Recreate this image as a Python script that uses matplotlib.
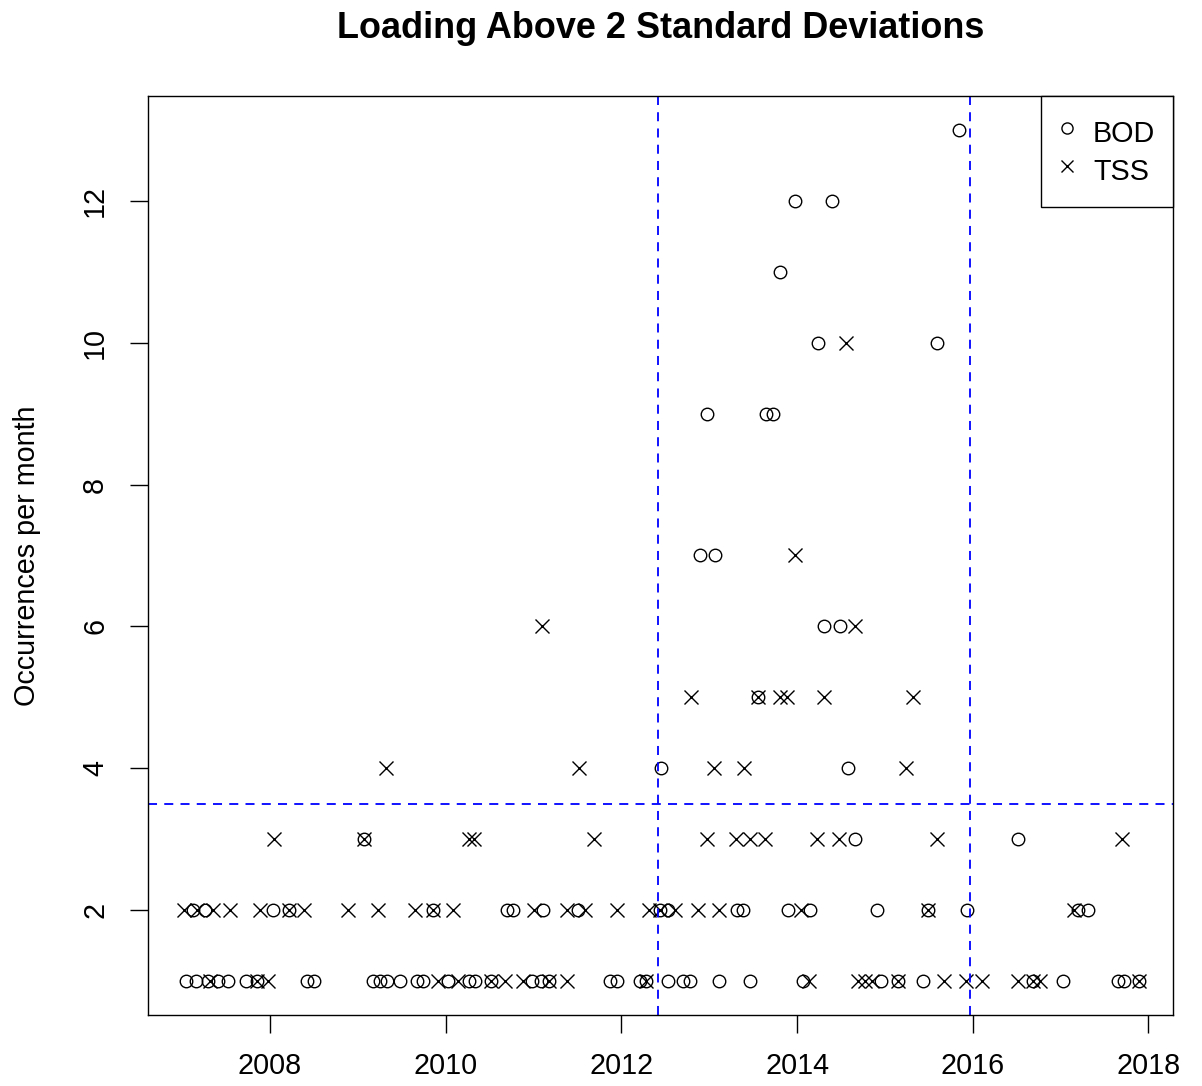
import matplotlib
matplotlib.use("Agg")
import matplotlib.pyplot as plt
from matplotlib.lines import Line2D

plt.rcParams['font.family'] = ['Liberation Sans', 'DejaVu Sans']

# Monthly counts above the 2-sigma loading threshold (decimal year, count)
bod_year = [
    # 1 per month
    2007.04, 2007.16, 2007.29, 2007.41, 2007.52, 2007.73, 2007.85, 2008.42, 2008.50,
    2009.17, 2009.25, 2009.33, 2009.48, 2009.67, 2009.74, 2010.03, 2010.26, 2010.33,
    2010.51, 2010.98, 2011.08, 2011.17, 2011.87, 2011.95, 2012.21, 2012.28, 2012.53,
    2012.70, 2012.78, 2013.11, 2013.46, 2014.07, 2014.95, 2015.15, 2015.43, 2016.69,
    2017.03, 2017.65, 2017.72, 2017.89,
    # 2 per month
    2007.12, 2007.26, 2008.03, 2008.21, 2009.85, 2010.70, 2010.77, 2011.11, 2011.51,
    2012.44, 2012.53, 2013.32, 2013.38, 2013.90, 2014.15, 2014.91, 2015.49, 2015.93,
    2017.20, 2017.31,
    # 3 and up
    2009.07, 2014.66, 2016.52,
    2012.45, 2014.58,
    2013.56,
    2014.31, 2014.49,
    2012.89, 2013.06,
    2012.97, 2013.65, 2013.73,
    2014.24, 2015.59,
    2013.81,
    2013.98, 2014.40,
    2015.84,
]
bod_count = (
    [1] * 40 + [2] * 20 + [3] * 3 + [4] * 2 + [5] * 1 + [6] * 2 + [7] * 2
    + [9] * 3 + [10] * 2 + [11] * 1 + [12] * 2 + [13] * 1
)

tss_year = [
    # 1 per month
    2007.32, 2007.85, 2007.98, 2009.91, 2010.14, 2010.51, 2010.68, 2010.88, 2011.17,
    2011.38, 2012.28, 2014.13, 2014.69, 2014.77, 2014.85, 2015.15, 2015.67, 2015.92,
    2016.11, 2016.51, 2016.69, 2016.77, 2017.89,
    # 2 per month
    2007.02, 2007.17, 2007.35, 2007.54, 2007.89, 2008.21, 2008.39, 2008.89, 2009.23,
    2009.65, 2009.85, 2010.08, 2011.00, 2011.38, 2011.59, 2011.95, 2012.31, 2012.44,
    2012.61, 2012.87, 2013.11, 2014.04, 2015.49, 2017.15,
    # 3 and up
    2008.05, 2009.07, 2010.26, 2010.32, 2011.69, 2012.97, 2013.31, 2013.46, 2013.64,
    2014.23, 2014.48, 2015.59, 2017.70,
    2009.32, 2011.52, 2013.05, 2013.39, 2015.24,
    2012.79, 2013.56, 2013.81, 2013.88, 2014.31, 2015.32,
    2011.10, 2014.66,
    2013.98,
    2014.56,
]
tss_count = (
    [1] * 23 + [2] * 24 + [3] * 13 + [4] * 5 + [5] * 6 + [6] * 2 + [7] * 1 + [10] * 1
)

threshold = 3.5
period_start = 2012.42
period_end = 2015.97

x_ticks = [2008, 2010, 2012, 2014, 2016, 2018]
y_ticks = [2, 4, 6, 8, 10, 12]

fig = plt.figure(figsize=(12.02, 10.86), dpi=100)
ax = fig.add_axes([0.1231, 0.0654, 0.8528, 0.8462])

ax.plot(bod_year, bod_count, linestyle='none', marker='o', markersize=9,
        markerfacecolor='none', markeredgecolor='black', markeredgewidth=1.0)
ax.plot(tss_year, tss_count, linestyle='none', marker='x', markersize=10,
        color='black', markeredgewidth=1.0)

dash = (0, (5, 4))
ax.axhline(threshold, color='blue', linestyle=dash, linewidth=1.3)
ax.axvline(period_start, color='blue', linestyle=dash, linewidth=1.3)
ax.axvline(period_end, color='blue', linestyle=dash, linewidth=1.3)

ax.set_xlim(2006.61, 2018.28)
ax.set_ylim(0.52, 13.48)
ax.set_xticks(x_ticks)
ax.set_yticks(y_ticks)
ax.tick_params(axis='both', direction='out', length=13, width=1.0,
               labelsize=20.7, colors='black')
ax.tick_params(axis='x', pad=14)
ax.tick_params(axis='y', pad=15)
for lab in ax.get_yticklabels():
    lab.set_rotation(90)
    lab.set_verticalalignment('center')
for sp in ax.spines.values():
    sp.set_linewidth(1.0)
    sp.set_color('black')

ax.set_ylabel('Occurrences per month', fontsize=20.7)
ax.yaxis.set_label_coords(-0.104, 0.5)
fig.suptitle('Loading Above 2 Standard Deviations', fontsize=25.9,
             fontweight='bold', x=0.5495, y=0.9895, va='top')

handles = [
    Line2D([], [], linestyle='none', marker='o', markersize=8,
           markerfacecolor='none', markeredgecolor='black'),
    Line2D([], [], linestyle='none', marker='x', markersize=8, color='black'),
]
leg = ax.legend(handles, ['BOD', 'TSS'], loc='upper right', fontsize=20.7,
                frameon=True, fancybox=False, framealpha=1, edgecolor='black',
                borderaxespad=0, handlelength=0.6, handleheight=1.6,
                handletextpad=0.6, borderpad=0.62, labelspacing=0.05)
leg.get_frame().set_linewidth(1.0)

fig.savefig('out.png', dpi=100)
